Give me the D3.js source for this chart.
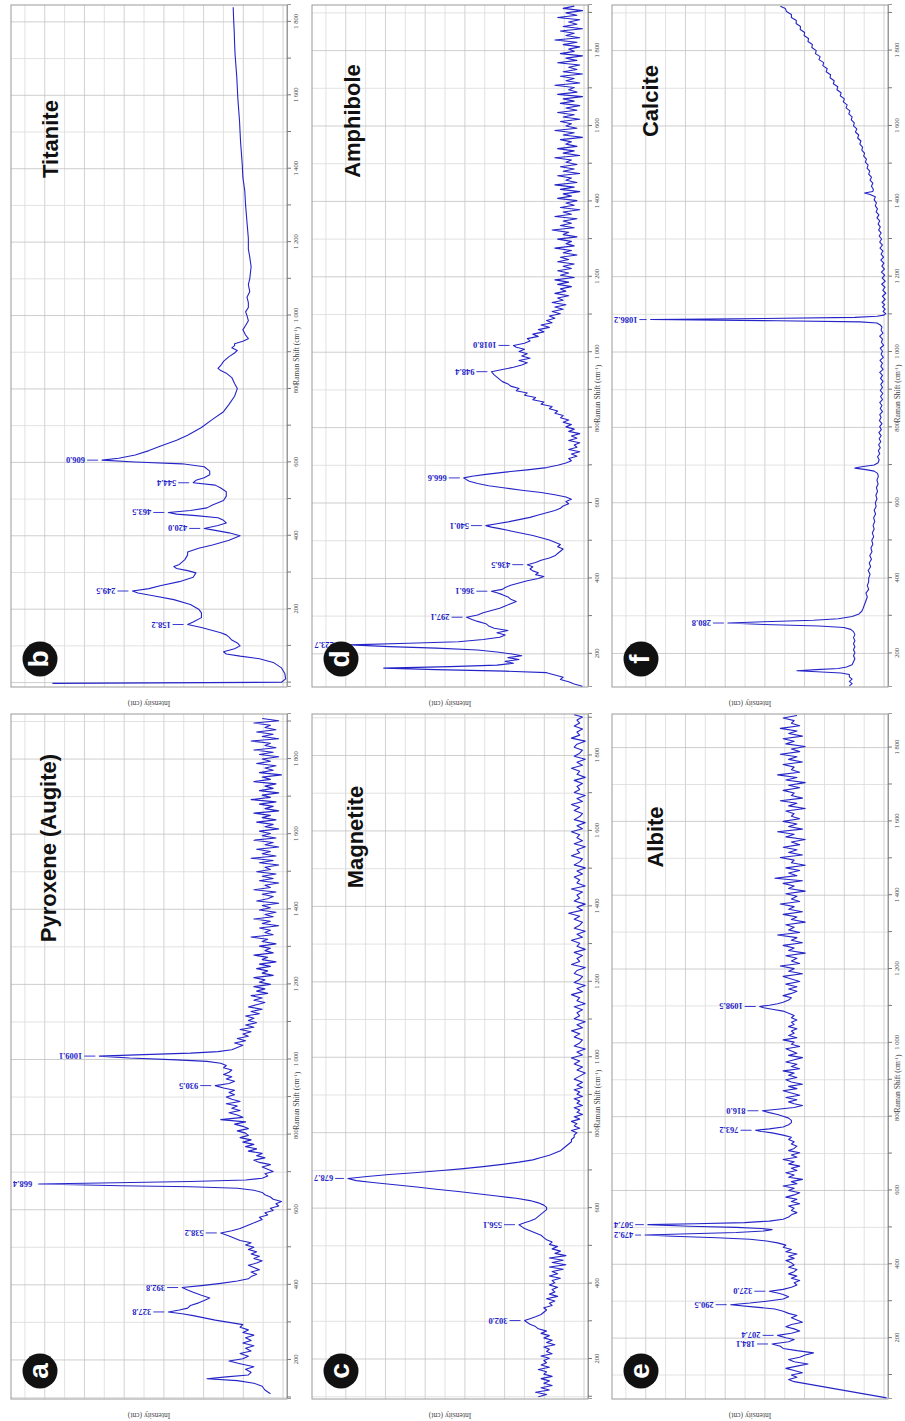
<!doctype html>
<html>
   <head>
      <meta charset="utf-8">
      <title>Raman spectra</title>
      <script src="https://d3js.org/d3.v7.min.js"></script>
      <style>
         body { margin: 0; background: #fff; }
         svg { display: block; }
      </style>
   </head>
   <body>
      <div id="chart"></div>
      <script>

         // spectra: [Raman shift (cm-1), intensity (% of panel height)]
         var pyroxene = [[110,6],[120,8],[130,9],[138,12],[145,18],[150,29],[155,22],[160,14],[167,13],[175,15],[182,12],[190,17],[197,21],[203,16],[210,14],[217,17],[224,13],[231,15],[238,12],[245,16],[252,13],[259,15],[266,12],[273,16],[280,14],[287,17],[294,16],[300,21],[306,26],[312,30],[318,34],[323,38],[327.8,43],[333,39],[338,36],[345,35],[352,32],[358,30],[365,28],[372,31],[380,34],[386,36],[392.8,38],[398,31],[404,24],[410,18],[416,14],[422,13],[428,11],[434,13],[440,10],[446,12],[452,14],[458,11],[464,9],[470,12],[476,10],[482,13],[488,11],[494,14],[500,12],[506,15],[512,13],[518,17],[524,19],[530,21],[538.2,24],[544,20],[550,17],[556,15],[562,13],[568,11],[574,9],[580,10],[586,7],[592,8],[598,5],[604,6],[610,3],[616,4],[622,2],[628,5],[634,6],[640,8],[646,9],[652,12],[657,18],[661,35],[664,60],[668.4,90],[672,62],[675,35],[679,15],[684,9],[690,7],[696,8],[702,5],[708,7],[714,9],[720,6],[726,10],[732,12],[738,8],[744,11],[750,9],[756,14],[762,11],[768,15],[774,12],[780,16],[786,13],[792,17],[798,14],[804,15],[810,18],[816,14],[822,16],[828,19],[834,15],[840,24],[846,16],[852,18],[858,21],[864,17],[870,20],[876,18],[882,22],[888,17],[894,20],[900,22],[906,19],[912,21],[918,19],[924,23],[930.5,26],[936,21],[942,19],[948,22],[954,20],[960,23],[966,21],[972,20],[978,23],[984,22],[990,24],[995,29],[999,40],[1004,57],[1009.1,68],[1013,52],[1017,35],[1021,25],[1026,20],[1032,18],[1038,16],[1044,19],[1050,15],[1056,18],[1062,14],[1068,16],[1074,13],[1080,17],[1086,12],[1092,15],[1098,11],[1104,14],[1110,12],[1116,15],[1122,10],[1128,13],[1134,9],[1140,14],[1146,11],[1152,8],[1158,12],[1164,9],[1170,13],[1176,7],[1182,11],[1188,8],[1194,12],[1200,6],[1206,10],[1212,8],[1218,12],[1224,5],[1230,9],[1236,7],[1242,11],[1248,6],[1254,10],[1260,4],[1266,9],[1272,7],[1278,12],[1284,5],[1290,8],[1296,6],[1302,10],[1308,4],[1314,9],[1320,7],[1326,13],[1332,5],[1338,8],[1344,6],[1350,10],[1356,3],[1362,9],[1368,6],[1374,12],[1380,5],[1386,8],[1392,4],[1398,10],[1404,6],[1410,9],[1416,3],[1422,11],[1428,7],[1434,5],[1440,9],[1446,4],[1452,12],[1458,6],[1464,8],[1470,3],[1476,10],[1482,5],[1488,9],[1494,4],[1500,11],[1506,6],[1512,8],[1518,3],[1524,10],[1530,5],[1536,13],[1542,4],[1548,9],[1554,6],[1560,11],[1566,3],[1572,8],[1578,5],[1584,12],[1590,4],[1596,9],[1602,6],[1608,10],[1614,3],[1620,8],[1626,5],[1632,11],[1638,4],[1644,9],[1650,6],[1656,12],[1662,3],[1668,8],[1674,5],[1680,10],[1686,4],[1692,13],[1698,6],[1704,9],[1710,3],[1716,10],[1722,5],[1728,8],[1734,4],[1740,12],[1746,6],[1752,9],[1758,2],[1764,10],[1770,5],[1776,8],[1782,4],[1788,11],[1794,6],[1800,9],[1806,3],[1812,10],[1818,5],[1824,12],[1830,4],[1836,8],[1842,6],[1848,13],[1854,3],[1860,9],[1866,5],[1872,11],[1878,4],[1884,8],[1890,6],[1896,12],[1902,3],[1908,9]];
         var pyroxenePeaks = [327.8, 392.8, 538.2, 668.4, 930.5, 1009.1];

         var titanite = [[-2,85],[1,2],[10,0.5],[25,0.8],[40,2],[55,5],[65,10],[72,17],[78,22],[84,23],[92,19],[100,17],[108,18],[116,20],[124,21],[130,22],[136,24],[142,27],[150,31],[158.2,36],[165,34],[177,31],[190,31],[200,32],[213,35],[226,41],[236,48],[244,54],[249.5,56],[256,50],[264,46],[275,39],[287,34],[299,33],[305,36],[311,40],[316,41],[322,39],[335,37],[348,36],[356,36],[366,32],[375,27],[388,21],[400,17],[408,21],[416,27],[420,30],[428,25],[435,22],[442,23],[449,25],[455,33],[459,40],[463.5,43],[469,35],[476,29],[484,27],[496,23],[508,22],[520,22],[530,24],[538,26],[544.4,34],[551,33],[558,30],[566,28],[576,28],[588,30],[596,38],[601,55],[606,67],[611,61],[620,55],[632,50],[644,46],[660,40],[674,36],[695,31],[717,27],[738,23],[758,21],[780,19],[801,18],[815,19],[831,20],[843,22],[850,24],[856,25],[864,24],[875,23],[888,21],[898,19],[905,18],[912,20],[918,19],[923,19],[930,16],[937,14],[947,15],[961,16],[973,15],[986,14],[1000,14.5],[1010,15],[1022,14],[1035,14],[1050,14.5],[1065,13.5],[1084,14],[1100,13.5],[1133,13],[1160,13.5],[1181,14],[1210,14],[1255,14.5],[1300,15],[1340,15.3],[1377,16],[1410,16.2],[1440,16.5],[1470,16.8],[1499,17],[1530,17.2],[1560,17.5],[1590,17.8],[1620,18],[1650,18.2],[1680,18.5],[1710,18.8],[1743,19],[1770,19.1],[1800,19.3],[1840,19.5]];
         var titanitePeaks = [158.2, 249.5, 420.0, 463.5, 544.4, 606.0];

         var magnetite = [[100,18],[106,15],[112,19],[118,14],[124,17],[130,13],[136,16],[142,14],[148,17],[154,13],[160,16],[166,15],[172,18],[178,14],[184,17],[190,15],[196,16],[202,14],[208,17],[214,13],[220,15],[226,14],[232,16],[238,12],[244,15],[250,13],[256,16],[262,14],[268,17],[274,15],[280,18],[286,19],[292,21],[297,22],[302,23],[307,21],[312,19],[318,17],[324,16],[330,15],[336,16],[342,13],[348,14],[354,12],[360,15],[366,11],[372,14],[378,12],[384,13],[390,11],[396,14],[402,12],[408,13],[414,10],[420,14],[426,11],[432,13],[438,9],[444,14],[450,8],[456,13],[462,9],[468,14],[474,8],[480,12],[486,10],[492,13],[498,11],[504,14],[510,13],[516,15],[522,16],[528,17],[534,19],[540,21],[546,23],[551,24],[556.1,25],[561,23],[566,21],[572,19],[578,18],[584,17],[590,16],[596,15],[602,15],[608,16],[614,18],[620,21],[626,26],[632,33],[638,40],[644,47],[650,55],[656,62],[662,70],[668,78],[673,84],[678.7,87],[684,80],[689,72],[694,63],[699,54],[704,46],[710,38],[716,31],[722,25],[728,20],[734,17],[740,14],[746,12],[752,10],[758,9],[764,8],[770,7],[776,6],[782,6],[788,5],[794,5],[800,4],[806,6],[812,3],[818,5],[824,4],[830,6],[836,3],[842,5],[848,2],[854,4],[860,3],[866,5],[872,2],[878,4],[884,3],[890,5],[896,2],[902,4],[908,3],[914,5],[920,2],[926,4],[934,2],[942,5],[950,3],[958,1],[966,4],[974,2],[982,5],[990,3],[998,6],[1006,2],[1014,4],[1022,1],[1030,5],[1038,3],[1046,2],[1054,5],[1062,3],[1070,6],[1078,2],[1086,4],[1094,1],[1102,5],[1110,3],[1118,4],[1126,2],[1134,5],[1142,1],[1150,4],[1158,3],[1166,6],[1174,2],[1182,4],[1190,1],[1198,5],[1206,3],[1214,2],[1222,5],[1230,4],[1238,1],[1246,6],[1254,3],[1262,4],[1270,2],[1278,5],[1286,1],[1294,4],[1302,3],[1310,6],[1318,2],[1326,4],[1334,1],[1342,5],[1350,3],[1358,2],[1366,5],[1374,3],[1382,7],[1390,2],[1398,4],[1406,1],[1414,5],[1422,3],[1430,4],[1438,2],[1446,6],[1454,1],[1462,4],[1470,3],[1478,5],[1486,2],[1494,4],[1502,1],[1510,5],[1518,3],[1526,2],[1534,6],[1542,3],[1550,4],[1558,1],[1566,5],[1574,2],[1582,4],[1590,3],[1598,6],[1606,2],[1614,4],[1622,1],[1630,5],[1638,3],[1646,2],[1654,5],[1662,3],[1670,6],[1678,2],[1686,4],[1694,1],[1702,5],[1710,3],[1718,4],[1726,2],[1734,5],[1742,1],[1750,4],[1758,3],[1766,6],[1774,2],[1782,4],[1790,1],[1798,5],[1806,3],[1814,2],[1822,5],[1830,4],[1838,1],[1846,6],[1854,3],[1862,4],[1870,2],[1878,5],[1886,3],[1894,4],[1902,2],[1908,5]];
         var magnetitePeaks = [302.0, 556.1, 678.7];

         var amphibole = [[114,2],[120,5],[126,7],[132,10],[138,9],[144,12],[150,15],[154,30],[158,55],[162,74],[166,50],[170,33],[175,27],[180,30],[185,25],[190,29],[195,24],[200,28],[205,33],[210,40],[215,55],[219,72],[223.7,86],[228,65],[232,47],[238,38],[244,32],[250,30],[256,33],[262,29],[268,34],[274,36],[280,37],[286,40],[291,42],[297.1,44],[303,40],[309,38],[315,35],[321,32],[327,30],[333,28],[339,26],[345,28],[351,29],[357,31],[362,33],[366.1,35],[371,31],[376,30],[382,28],[388,25],[394,22],[400,18],[405,16],[410,19],[415,18],[420,20],[425,21],[431,20],[436.5,22],[442,19],[448,17],[454,14],[460,12],[466,11],[472,10],[478,9],[484,11],[490,10],[496,12],[502,14],[508,17],[514,20],[520,24],[526,28],[532,32],[536,35],[540.1,37],[545,33],[550,29],[556,25],[562,21],[568,18],[574,15],[580,12],[586,10],[592,9],[598,7],[604,8],[610,6],[616,8],[622,12],[628,17],[634,24],[640,30],[646,36],[652,40],[658,43],[662,44],[666.6,45],[671,42],[676,37],[682,30],[688,22],[694,15],[700,11],[706,8],[712,6],[718,7],[724,4],[730,6],[736,3],[742,7],[748,4],[754,5],[760,3],[766,7],[772,4],[778,6],[784,3],[790,7],[796,5],[802,8],[808,6],[814,9],[820,7],[826,10],[832,9],[838,12],[844,11],[850,14],[856,13],[862,17],[868,16],[874,20],[880,19],[886,23],[892,22],[898,26],[904,25],[910,28],[916,29],[922,31],[928,32],[934,33],[940,34],[948.4,35],[954,31],[960,27],[966,24],[972,22],[978,25],[984,21],[990,24],[996,22],[1002,25],[1008,23],[1013,26],[1018,27],[1024,23],[1030,21],[1036,22],[1042,18],[1048,20],[1054,16],[1060,18],[1066,14],[1072,17],[1078,13],[1084,15],[1090,12],[1096,14],[1102,10],[1108,13],[1114,9],[1120,12],[1126,8],[1132,13],[1138,9],[1144,11],[1150,7],[1156,12],[1162,8],[1168,10],[1174,6],[1180,11],[1186,7],[1192,12],[1198,5],[1204,10],[1210,7],[1216,11],[1222,6],[1228,9],[1234,5],[1240,11],[1246,7],[1252,10],[1258,4],[1264,9],[1270,6],[1276,12],[1282,5],[1288,8],[1294,6],[1300,11],[1306,4],[1312,9],[1318,7],[1324,13],[1330,5],[1336,10],[1342,6],[1348,9],[1354,4],[1360,12],[1366,6],[1372,9],[1378,3],[1384,10],[1390,5],[1396,8],[1402,4],[1408,11],[1414,6],[1420,9],[1426,3],[1432,10],[1438,5],[1444,12],[1450,4],[1456,8],[1462,6],[1468,11],[1474,3],[1480,9],[1486,5],[1492,10],[1498,4],[1504,8],[1510,6],[1516,12],[1522,3],[1528,9],[1534,5],[1540,11],[1546,4],[1552,8],[1558,6],[1564,10],[1570,2],[1576,9],[1582,5],[1588,12],[1594,4],[1600,8],[1606,6],[1612,10],[1618,3],[1624,9],[1630,5],[1636,11],[1642,4],[1648,8],[1654,3],[1660,10],[1666,5],[1672,9],[1678,2],[1684,11],[1690,4],[1696,7],[1702,5],[1708,12],[1714,3],[1720,8],[1726,5],[1732,10],[1738,2],[1744,9],[1750,4],[1756,7],[1762,3],[1768,11],[1774,4],[1780,8],[1786,2],[1792,10],[1798,5],[1804,7],[1810,3],[1816,9],[1822,4],[1828,12],[1834,3],[1840,8],[1846,5],[1852,10],[1858,2],[1864,9],[1870,4],[1876,7],[1882,3],[1888,11],[1894,4],[1900,8],[1906,2],[1912,9],[1918,5]];
         var amphibolePeaks = [223.7, 297.1, 366.1, 436.5, 540.1, 666.6, 948.4, 1018.0];

         var albite = [[38,0.5],[82,34],[88,36],[94,33],[100,35],[106,31],[112,34],[118,37],[124,33],[130,29],[136,34],[142,36],[148,32],[154,30],[160,27],[166,33],[172,38],[178,39],[184.1,42],[190,36],[196,34],[201,37],[207.4,40],[213,35],[219,32],[225,34],[231,37],[237,35],[243,31],[249,33],[255,35],[261,33],[267,36],[273,38],[279,41],[284,48],[290.5,57],[295,50],[300,44],[306,38],[312,36],[318,38],[322,40],[327,43],[332,38],[338,35],[344,33],[350,34],[356,32],[362,35],[368,33],[374,36],[380,34],[386,33],[392,36],[398,34],[404,35],[410,37],[416,34],[422,36],[428,33],[434,37],[440,35],[446,38],[452,37],[458,40],[463,44],[468,50],[472,62],[476,78],[479.2,88],[482,75],[486,55],[490,45],[494,42],[497,46],[500,55],[503,72],[507.4,87],[510,70],[513,52],[517,43],[522,38],[528,36],[534,35],[540,33],[546,35],[552,34],[558,36],[564,32],[570,35],[576,33],[582,37],[588,34],[594,32],[600,36],[606,34],[612,38],[618,33],[624,35],[630,31],[636,36],[642,34],[648,37],[654,33],[660,35],[666,32],[672,36],[678,34],[684,38],[690,33],[696,35],[702,32],[708,36],[714,34],[720,33],[726,35],[732,34],[738,36],[744,35],[750,38],[756,42],[760,46],[763.2,48],[767,43],[772,38],[778,36],[784,35],[790,35],[796,36],[801,38],[806,40],[811,43],[816,45.5],[820,40],[825,34],[830,31],[835,34],[840,36],[846,33],[852,37],[858,32],[864,35],[870,38],[876,33],[882,36],[888,31],[894,35],[900,37],[906,33],[912,36],[918,34],[924,38],[930,32],[936,35],[942,33],[948,37],[954,34],[960,31],[966,36],[972,33],[978,35],[984,37],[990,32],[996,35],[1002,34],[1008,38],[1014,33],[1020,36],[1026,34],[1032,35],[1038,33],[1044,36],[1050,34],[1056,35],[1062,33],[1068,35],[1074,34],[1080,36],[1086,38],[1091,42],[1095,45],[1098.5,46.5],[1102,43],[1106,40],[1110,38],[1116,36],[1122,35],[1128,38],[1134,35],[1140,33],[1146,36],[1152,33],[1159,37],[1166,32],[1173,35],[1180,38],[1187,31],[1194,36],[1201,34],[1208,39],[1215,32],[1222,35],[1229,33],[1236,37],[1243,30],[1250,36],[1257,34],[1264,38],[1271,31],[1278,35],[1285,33],[1292,40],[1299,32],[1306,36],[1313,34],[1320,37],[1327,30],[1334,35],[1341,33],[1348,38],[1355,31],[1362,36],[1369,34],[1376,39],[1383,32],[1390,35],[1397,33],[1404,37],[1411,30],[1418,36],[1425,34],[1432,38],[1439,31],[1446,41],[1453,33],[1460,36],[1467,32],[1474,37],[1481,30],[1488,35],[1495,34],[1502,39],[1509,31],[1516,36],[1523,33],[1530,38],[1537,32],[1544,35],[1551,30],[1558,37],[1565,34],[1572,40],[1579,31],[1586,36],[1593,33],[1600,38],[1607,32],[1614,35],[1621,34],[1628,37],[1635,30],[1642,36],[1649,33],[1656,39],[1663,31],[1670,35],[1677,34],[1684,38],[1691,32],[1698,36],[1705,30],[1712,37],[1719,33],[1726,40],[1733,32],[1740,35],[1747,34],[1754,38],[1761,31],[1768,36],[1775,33],[1782,39],[1789,32],[1796,35],[1803,30],[1810,37],[1817,34],[1824,38],[1831,31],[1838,36],[1845,33],[1852,39],[1859,32],[1866,35],[1873,34],[1880,38],[1887,33]];
         var albitePeaks = [184.1, 207.4, 290.5, 327.0, 479.2, 507.4, 763.2, 816.0, 1098.5];

         var calcite = [[114,14],[120,13],[126,14],[132,13],[138,14],[144,14],[148,17],[151,24],[154,33],[157,26],[160,18],[164,15],[170,13],[178,12.5],[186,12],[194,12.5],[202,12],[210,12.5],[218,12],[226,12.5],[234,12],[242,12.5],[250,12],[258,12.5],[264,13.5],[269,16],[273,25],[277,45],[280.8,58],[284,45],[288,27],[292,18],[298,13],[305,10.5],[312,9.5],[320,9],[330,8.5],[340,8],[350,7.5],[360,8],[370,7],[380,7.5],[390,7],[400,7],[410,6.5],[420,7.2],[430,6.3],[440,6.8],[450,6],[460,6.6],[470,5.8],[480,6.2],[490,5.5],[500,5.9],[510,5.2],[520,5.7],[530,5],[540,5.4],[550,4.8],[560,5.2],[570,4.5],[580,5],[590,4.3],[600,4.6],[610,4],[620,4.4],[630,3.8],[640,4.2],[650,3.6],[660,4],[670,3.5],[678,3.8],[684,5],[688,8],[692,12],[696,9],[700,5],[706,3.6],[714,3.2],[722,3.8],[730,3],[738,3.5],[746,2.8],[754,3.4],[762,2.6],[770,3.2],[778,2.5],[786,3.3],[794,2.4],[802,3],[810,2.2],[818,3.1],[826,2.5],[834,3],[842,2],[850,2.8],[858,2.2],[866,3],[874,2],[882,2.7],[890,1.9],[898,2.8],[906,2],[914,2.6],[922,1.8],[930,2.7],[938,2],[946,3],[954,1.8],[962,2.6],[970,2],[978,2.9],[986,1.7],[994,2.5],[1002,2],[1010,2.8],[1018,1.6],[1026,2.4],[1034,2],[1042,3],[1050,1.8],[1058,2.5],[1066,2.2],[1072,2.8],[1077,4],[1080,10],[1083,40],[1086.2,86],[1089,45],[1092,12],[1095,4],[1098,1.5],[1102,0.8],[1108,1.8],[1114,1],[1120,2],[1126,1.2],[1132,2.2],[1140,1],[1148,2],[1156,0.8],[1164,1.9],[1172,1.1],[1180,2.3],[1188,1],[1196,2.1],[1204,1.2],[1212,2.4],[1220,1.3],[1228,2.2],[1236,1.5],[1244,2.6],[1252,1.6],[1260,2.5],[1268,1.8],[1276,2.9],[1284,2],[1292,3],[1300,2.3],[1308,3.2],[1316,2.5],[1324,3.4],[1332,2.8],[1340,3.6],[1348,3],[1356,4],[1364,3.3],[1372,4.3],[1380,3.8],[1388,4.6],[1396,4.2],[1404,5],[1412,4.6],[1418,6.5],[1422,8.5],[1426,5.5],[1432,5.3],[1440,6],[1448,5.5],[1456,6.5],[1464,6],[1472,7],[1480,6.6],[1488,7.6],[1496,7.2],[1504,8.2],[1512,7.8],[1520,8.8],[1528,8.5],[1536,9.5],[1544,9.2],[1552,10.2],[1560,9.8],[1568,11],[1576,10.6],[1584,11.8],[1592,11.3],[1600,12.5],[1608,12.2],[1616,13.3],[1624,13],[1632,14.2],[1640,13.8],[1648,15.2],[1656,14.8],[1664,16.2],[1672,15.8],[1680,17.3],[1688,17],[1696,18.5],[1704,18.2],[1712,19.8],[1720,19.5],[1728,21],[1736,20.8],[1744,22.4],[1752,22],[1760,23.6],[1768,23.3],[1776,25],[1784,24.6],[1792,26.3],[1800,26],[1808,27.6],[1816,27.4],[1824,29],[1832,28.8],[1840,30.4],[1848,30.2],[1856,31.8],[1864,31.7],[1872,33.3],[1880,33.2],[1888,35],[1896,35],[1904,36.8],[1912,37.2],[1918,39]];
         var calcitePeaks = [280.8, 1086.2];

         var panels = [
            {key: "a", name: "Pyroxene (Augite)", data: pyroxene, peaks: pyroxenePeaks, domain: [96, 1920], row: 0, col: 0, title: [551, 37]},
            {key: "b", name: "Titanite", data: titanite, peaks: titanitePeaks, domain: [-12, 1846], row: 1, col: 0, title: [548, 39]},
            {key: "c", name: "Magnetite", data: magnetite, peaks: magnetitePeaks, domain: [94, 1910], row: 0, col: 1, title: [562, 43]},
            {key: "d", name: "Amphibole", data: amphibole, peaks: amphibolePeaks, domain: [112, 1921], row: 1, col: 1, title: [566, 40]},
            {key: "e", name: "Albite", data: albite, peaks: albitePeaks, domain: [35, 1891], row: 0, col: 2, title: [562, 43]},
            {key: "f", name: "Calcite", data: calcite, peaks: calcitePeaks, domain: [111, 1921], row: 1, col: 2, title: [586, 38]}
         ];

         var width = 905;
         var height = 1421;
         var blue = "#2424c8";
         var serif = "'Liberation Serif', 'DejaVu Serif', serif";
         var sans = "'Liberation Sans', Arial, sans-serif";

         var svg = d3.select("#chart").append("svg")
                     .attr("width", width)
                     .attr("height", height);

         // the plate is drawn landscape and then turned a quarter turn, like the source figure
         var fig = svg.append("g")
                      .attr("transform", "translate(0," + height + ") rotate(-90)");

         var rows = [{x: 22, w: 685}, {x: 734, w: 682}];
         var cols = [{y: 11, h: 276}, {y: 312, h: 276}, {y: 612, h: 276}];

         var fmt = function(v){ return d3.format(",")(v).replace(",", " "); };

         panels.forEach(function(p){
            var w = rows[p.row].w, h = cols[p.col].h;
            var g = fig.append("g")
                       .attr("transform", "translate(" + rows[p.row].x + "," + cols[p.col].y + ")");

            var x = d3.scaleLinear().domain(p.domain).range([0, w]);
            var y = d3.scaleLinear().domain([0, 100]).range([h, 0]);
            // unlabelled intensity grid of the source plot
            var gy = d3.scaleLinear().domain([-0.2, 13.7]).range([h, 0]);

            g.append("g")
             .selectAll("line")
             .data(gy.ticks(14))
             .enter()
             .append("line")
             .attr("x1", 0).attr("x2", w)
             .attr("y1", function(d){ return gy(d); })
             .attr("y2", function(d){ return gy(d); })
             .attr("stroke", function(d){ return d % 2 ? "#dadada" : "#c6c6c6"; })
             .attr("stroke-width", 0.8);

            g.append("g")
             .selectAll("line")
             .data(x.ticks(20))
             .enter()
             .append("line")
             .attr("x1", function(d){ return x(d); })
             .attr("x2", function(d){ return x(d); })
             .attr("y1", 0).attr("y2", h)
             .attr("stroke", function(d){ return d % 200 ? "#dadada" : "#c2c2c2"; })
             .attr("stroke-width", 0.8);

            g.append("rect")
             .attr("width", w).attr("height", h)
             .attr("fill", "none")
             .attr("stroke", "#9a9a9a");

            var axis = d3.axisBottom(x)
                         .ticks(20)
                         .tickSize(4)
                         .tickPadding(2)
                         .tickFormat(function(d){ return (d > 0 && d % 200 === 0) ? fmt(d) : ""; });

            var ax = g.append("g")
                      .attr("transform", "translate(0," + h + ")")
                      .call(axis);
            ax.select(".domain").attr("stroke", "#9a9a9a");
            ax.selectAll(".tick line").attr("stroke", "#777");
            ax.selectAll(".tick text")
              .attr("font-family", serif)
              .attr("font-size", 6.5)
              .attr("fill", "#444");

            var xt = g.append("text")
                      .attr("x", x(890))
                      .attr("y", h + 6)
                      .attr("dy", "0.75em")
                      .attr("text-anchor", "middle")
                      .attr("font-family", serif)
                      .attr("font-size", 7.5)
                      .attr("fill", "#444")
                      .text("Raman Shift (cm");
            xt.append("tspan").attr("dy", "-0.35em").attr("font-size", 5).text("-1");
            xt.append("tspan").attr("dy", "0.35em").text(")");

            g.append("text")
             .attr("transform", "translate(-14," + (h / 2) + ") rotate(-90)")
             .attr("text-anchor", "middle")
             .attr("font-family", serif)
             .attr("font-size", 7.5)
             .attr("fill", "#444")
             .text("Intensity (cnt)");

            var line = d3.line()
                         .x(function(d){ return x(d[0]); })
                         .y(function(d){ return y(d[1]); });

            g.append("path")
             .datum(p.data)
             .attr("d", line)
             .attr("fill", "none")
             .attr("stroke", blue)
             .attr("stroke-width", 1.1)
             .attr("stroke-linejoin", "round");

            // peak labels, standing on the peak with a short leader
            p.peaks.forEach(function(v){
               var near = p.data.reduce(function(a, b){
                  return Math.abs(b[0] - v) < Math.abs(a[0] - v) ? b : a;
               });
               var px = x(v), py = y(near[1]);
               var t = g.append("text")
                        .attr("font-family", serif)
                        .attr("font-size", 8.5)
                        .attr("font-weight", "bold")
                        .attr("fill", blue)
                        .attr("dominant-baseline", "central")
                        .text(v.toFixed(1));
               var len = t.node().getComputedTextLength();
               var start = Math.max(py - 17, len + 2);
               t.attr("transform", "translate(" + px + "," + start + ") rotate(-90)");
               if (py - 4 > start + 4) {
                  g.append("line")
                   .attr("x1", px).attr("x2", px)
                   .attr("y1", py - 4).attr("y2", start + 2)
                   .attr("stroke", blue)
                   .attr("stroke-width", 0.9);
               }
            });

            g.append("text")
             .attr("x", p.title[0])
             .attr("y", p.title[1])
             .attr("text-anchor", "middle")
             .attr("dominant-baseline", "central")
             .attr("font-family", sans)
             .attr("font-weight", "bold")
             .attr("font-size", 22)
             .attr("fill", "#111")
             .text(p.name);

            var badge = g.append("g").attr("transform", "translate(28,29)");
            badge.append("circle").attr("r", 17.5).attr("fill", "#111");
            badge.append("text")
                 .attr("text-anchor", "middle")
                 .attr("dominant-baseline", "central")
                 .attr("dy", "-0.06em")
                 .attr("font-family", sans)
                 .attr("font-weight", "bold")
                 .attr("font-size", 28)
                 .attr("fill", "#fff")
                 .text(p.key);
         });

      </script>
   </body>
</html>
